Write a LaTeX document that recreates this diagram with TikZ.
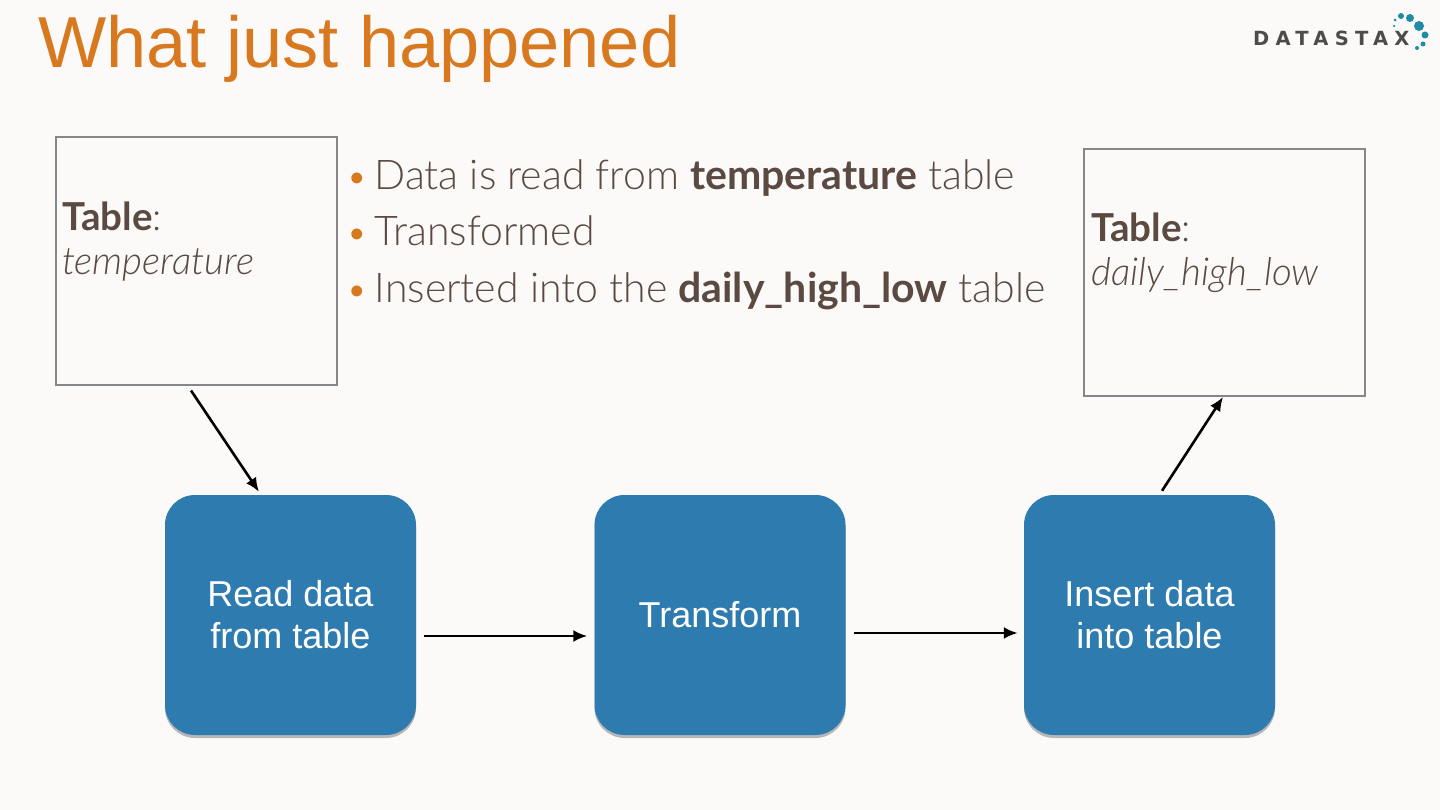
\documentclass[tikz,border=0pt]{standalone}
\usepackage{fontspec}
\setmainfont{Lato Light}[BoldFont={Lato Bold},ItalicFont={Lato Light Italic}]
\newfontfamily\plainfont{Liberation Sans}
\newfontfamily\logofont{DejaVu Sans Bold}[LetterSpace=32]
\usetikzlibrary{shadows,arrows.meta}
\definecolor{pagebg}{HTML}{FBFAF8}
\definecolor{titleorange}{HTML}{D8781F}
\definecolor{bodybrown}{HTML}{5A4A42}
\definecolor{stepblue}{HTML}{2E7BB0}
\definecolor{tablegray}{HTML}{85878B}
\definecolor{logoteal}{HTML}{1F8CA5}
\tikzset{
    stepbox/.style={
        fill=stepblue, rounded corners=30pt, minimum width=251pt, minimum height=240pt,
        text=white, align=center, font={\plainfont\fontsize{36}{42}\selectfont},
        drop shadow={shadow xshift=0pt,shadow yshift=-3pt,opacity=.55}
    },
    tablebox/.style={draw=tablegray, line width=2pt, fill=pagebg, minimum width=281pt, minimum height=247pt},
    tablelabel/.style={anchor=west, align=left, text=bodybrown, inner sep=0pt, font={\fontsize{38.5}{44}\selectfont}},
    bullet/.style={anchor=base west, text=bodybrown, inner sep=0pt, font={\fontsize{41}{48}\selectfont}},
    flow/.style={-{Latex[length=14pt,width=12pt]}, line width=2.6pt, black},
    logodot/.style={fill=logoteal, draw=none, circle, inner sep=0pt}
}
\newcommand{\orangedot}{\textcolor{titleorange}{{\fontsize{37}{37}\selectfont\textbullet}}\hspace{7pt}}
\begin{document}
\begin{tikzpicture}[x=1pt,y=-1pt]
    \useasboundingbox[fill=pagebg] (0,0) rectangle (1440,810);
    \node (title) at (38,68) [anchor=base west, inner sep=0pt, text=titleorange, font={\plainfont\fontsize{72.2}{80}\selectfont}] {What just happened};
    % logo
    \node (logo) at (1253,46) [anchor=base west, inner sep=0pt, text=black!70, font={\logofont\fontsize{19.5}{24}\selectfont}] {DATASTAX};
    \node[logodot, minimum size=3pt] (dota) at (1395,20) {};
    \node[logodot, minimum size=2.5pt] (dotb) at (1394,26) {};
    \node[logodot, minimum size=6pt] (dotc) at (1401,16) {};
    \node[logodot, minimum size=8pt] (dotd) at (1410,18) {};
    \node[logodot, minimum size=10pt] (dote) at (1419,26) {};
    \node[logodot, minimum size=7pt] (dotf) at (1425,35) {};
    \node[logodot, minimum size=5pt] (dotg) at (1423,44) {};
    \node[logodot, minimum size=4pt] (doth) at (1417,48) {};
    % tables
    \node[tablebox] (temperature) at (196.5,261) {};
    \node[tablebox] (dailyhighlow) at (1224.5,272.5) {};
    \node[tablelabel] (templabel) at (62,242) {\textbf{Table}:\\\textit{temperature}};
    \node[tablelabel] (dailylabel) at (1091,253) {\textbf{Table}:\\\textit{daily\_high\_low}};
    % bullets
    \node[bullet] (lineone) at (346,190) {\orangedot Data is read from \textbf{temperature} table};
    \node[bullet] (linetwo) at (346,246) {\orangedot Transformed};
    \node[bullet] (linethree) at (346,302) {\orangedot Inserted into the \textbf{daily\_high\_low} table};
    % steps
    \node[stepbox] (readdata) at (290.5,615) {Read data\\from table};
    \node[stepbox] (transform) at (720,615) {Transform};
    \node[stepbox] (insertdata) at (1149.5,615) {Insert data\\into table};
    % arrows
    \draw[flow] ([xshift=-5.5pt,yshift=-5pt]temperature.south) -- ([xshift=-31.5pt,yshift=3pt]readdata.north);
    \draw[flow] ([xshift=8pt,yshift=-21pt]readdata.east) -- ([xshift=-7pt,yshift=-21pt]transform.west);
    \draw[flow] ([xshift=8pt,yshift=-18pt]transform.east) -- ([xshift=-6pt,yshift=-18pt]insertdata.west);
    \draw[flow] ([xshift=12.5pt,yshift=4pt]insertdata.north) -- ([xshift=-1.5pt,yshift=0pt]dailyhighlow.south);
\end{tikzpicture}
\end{document}
